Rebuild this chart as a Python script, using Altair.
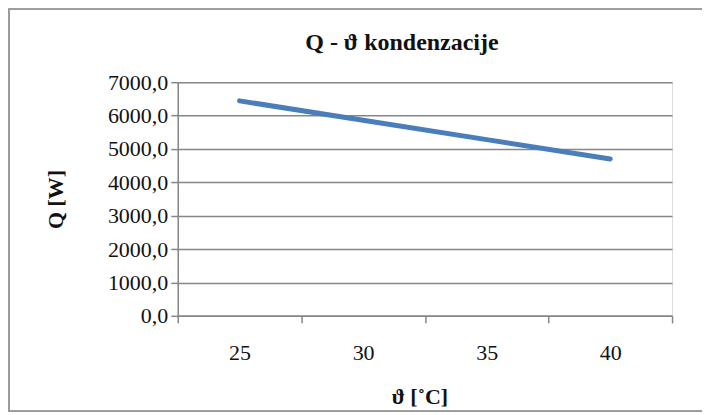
import altair as alt
import pandas as pd

temps = [25, 30, 35, 40]
q_values = [6440, 5860, 5280, 4700]
x_tick_values = [22.5, 25, 27.5, 30, 32.5, 35, 37.5, 40, 42.5]
y_tick_values = [0, 1000, 2000, 3000, 4000, 5000, 6000, 7000]

df = pd.DataFrame({"t": temps, "q": q_values})

FONT = "Liberation Serif"
GRID = "#868686"

x_axis = alt.Axis(
    values=x_tick_values,
    labelExpr="datum.value % 5 === 0 ? datum.value : ''",
    tickOpacity={"condition": {"test": "datum.value % 5 === 0", "value": 0}, "value": 1},
    tickSize=7,
    tickColor=GRID,
    tickWidth=1.5,
    domainColor=GRID,
    domainWidth=1.5,
    grid=False,
    labelFont=FONT,
    labelFontSize=22,
    labelColor="#111111",
    labelBaseline="middle",
    labelPadding=30,
    labelFlush=False,
    labelOverlap=False,
    title="ϑ [˚C]",
    titleFont=FONT,
    titleFontSize=22,
    titleFontWeight="bold",
    titleColor="#111111",
    titleX=242,
    titleY=81,
    titleBaseline="middle",
    titleAlign="center",
)

y_axis = alt.Axis(
    values=y_tick_values,
    labelExpr="replace(format(datum.value, '.1f'), '.', ',')",
    tickSize=7,
    tickColor=GRID,
    tickWidth=1.5,
    domainColor=GRID,
    domainWidth=1.5,
    grid=True,
    gridColor=GRID,
    gridWidth=1.5,
    labelFont=FONT,
    labelFontSize=22,
    labelColor="#111111",
    labelPadding=3,
    labelFlush=False,
    labelOverlap=False,
    title="Q [W]",
    titleFont=FONT,
    titleFontSize=22,
    titleFontWeight="bold",
    titleColor="#111111",
    titleAngle=-90,
    titleX=-122,
    titleY=117,
    titleBaseline="middle",
    titleAlign="center",
)

line = alt.Chart(df).mark_line(color="#4A7EBB", strokeWidth=5, strokeCap="round").encode(
    x=alt.X("t:Q", scale=alt.Scale(domain=[22.5, 42.5], nice=False, zero=False), axis=x_axis),
    y=alt.Y("q:Q", scale=alt.Scale(domain=[0, 7000], nice=False), axis=y_axis),
)

border = alt.Chart(df).mark_rect(fill=None, stroke="#9a9a9a", strokeWidth=1.5).encode(
    x=alt.value(-169),
    x2=alt.value(545),
    y=alt.value(-73),
    y2=alt.value(329.5),
)

chart = (
    alt.layer(border, line)
    .properties(
        width=495,
        height=234,
        autosize=alt.AutoSizeParams(type="none"),
        padding={"left": 170, "top": 74, "right": 30, "bottom": 98},
        title=alt.TitleParams(
            "Q - ϑ kondenzacije",
            font=FONT,
            fontSize=24,
            fontWeight="bold",
            color="#111111",
            anchor="middle",
            frame="group",
            dx=-23,
            baseline="alphabetic",
            offset=0,
            dy=66,
        ),
    )
    .configure_view(stroke=None)
    .configure(background="white")
)

chart.save("out.html", embed_options={"renderer": "svg", "actions": False})
